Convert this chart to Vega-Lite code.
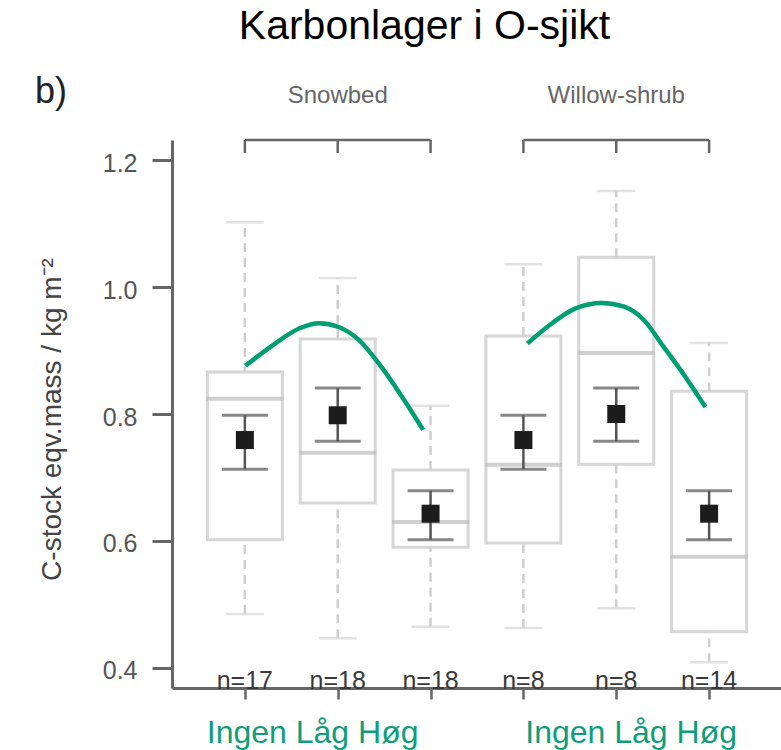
{
  "$schema": "https://vega.github.io/schema/vega-lite/v6.json",
  "width": 609,
  "height": 548,
  "autosize": "none",
  "padding": {"left": 172, "top": 140, "right": 0, "bottom": 62},
  "background": "white",
  "title": {"text": "Karbonlager i O-sjikt", "font": "Liberation Sans", "fontSize": 41, "fontWeight": "normal", "color": "#000000", "anchor": "middle", "frame": "group", "dx": -52, "offset": 26},
  "config": {
    "view": {"stroke": null},
    "font": "Liberation Sans",
    "axisX": {"labels": false, "title": null, "grid": false, "ticks": true, "tickSize": 11, "tickColor": "#666666", "tickWidth": 2.5, "domainColor": "#666666", "domainWidth": 3},
    "axisY": {"grid": false, "labelFont": "Liberation Sans", "labelFontSize": 25, "labelColor": "#555555", "labelPadding": 15, "labelOffset": 3,
      "tickSize": 20, "tickColor": "#666666", "tickWidth": 3, "domainColor": "#666666", "domainWidth": 3,
      "titleFont": "Liberation Sans", "titleFontSize": 28, "titleFontWeight": "normal", "titleColor": "#444444"}
  },
  "datasets": {
    "g": [
      {"site": "Snowbed", "level": "Ingen", "pos": 1, "wlo": 0.485, "q1": 0.602, "med": 0.824, "q3": 0.866, "whi": 1.102, "mean": 0.759, "lo": 0.713, "hi": 0.798, "n": "n=17"},
      {"site": "Snowbed", "level": "Låg", "pos": 2, "wlo": 0.447, "q1": 0.660, "med": 0.739, "q3": 0.918, "whi": 1.014, "mean": 0.798, "lo": 0.757, "hi": 0.841, "n": "n=18"},
      {"site": "Snowbed", "level": "Høg", "pos": 3, "wlo": 0.465, "q1": 0.590, "med": 0.630, "q3": 0.712, "whi": 0.813, "mean": 0.643, "lo": 0.602, "hi": 0.679, "n": "n=18"},
      {"site": "Willow-shrub", "level": "Ingen", "pos": 4, "wlo": 0.463, "q1": 0.597, "med": 0.720, "q3": 0.923, "whi": 1.036, "mean": 0.759, "lo": 0.713, "hi": 0.798, "n": "n=8"},
      {"site": "Willow-shrub", "level": "Låg", "pos": 5, "wlo": 0.494, "q1": 0.721, "med": 0.896, "q3": 1.047, "whi": 1.151, "mean": 0.800, "lo": 0.757, "hi": 0.841, "n": "n=8"},
      {"site": "Willow-shrub", "level": "Høg", "pos": 6, "wlo": 0.409, "q1": 0.457, "med": 0.575, "q3": 0.836, "whi": 0.912, "mean": 0.643, "lo": 0.602, "hi": 0.679, "n": "n=14"}
    ],
    "curve": [
      {"site": "Snowbed", "pos": 1.007, "value": 0.876},
      {"site": "Snowbed", "pos": 1.307, "value": 0.909},
      {"site": "Snowbed", "pos": 1.59, "value": 0.935},
      {"site": "Snowbed", "pos": 1.80, "value": 0.943},
      {"site": "Snowbed", "pos": 2.01, "value": 0.937},
      {"site": "Snowbed", "pos": 2.225, "value": 0.917},
      {"site": "Snowbed", "pos": 2.44, "value": 0.880},
      {"site": "Snowbed", "pos": 2.68, "value": 0.830},
      {"site": "Snowbed", "pos": 2.92, "value": 0.775},
      {"site": "Willow-shrub", "pos": 4.043, "value": 0.911},
      {"site": "Willow-shrub", "pos": 4.308, "value": 0.943},
      {"site": "Willow-shrub", "pos": 4.556, "value": 0.966},
      {"site": "Willow-shrub", "pos": 4.845, "value": 0.975},
      {"site": "Willow-shrub", "pos": 5.085, "value": 0.969},
      {"site": "Willow-shrub", "pos": 5.297, "value": 0.948},
      {"site": "Willow-shrub", "pos": 5.509, "value": 0.906},
      {"site": "Willow-shrub", "pos": 5.756, "value": 0.856},
      {"site": "Willow-shrub", "pos": 5.96, "value": 0.811}
    ],
    "br": [
      {"site": "Snowbed", "start": 1, "mid": 2, "end": 3},
      {"site": "Willow-shrub", "start": 4, "mid": 5, "end": 6}
    ]
  },
  "layer": [
    {
      "data": {"name": "g"},
      "mark": {"type": "bar", "orient": "vertical", "size": 75, "fill": "white", "stroke": "#d6d6d6", "strokeWidth": 3},
      "encoding": {
        "x": {"field": "pos", "type": "quantitative", "scale": {"domain": [0.2691, 6.7203], "nice": false, "zero": false},
          "axis": {"values": [1, 2, 3, 4, 5, 6], "labels": false, "title": null}},
        "y": {"field": "q1", "type": "quantitative", "scale": {"domain": [0.3685, 1.2315], "nice": false, "zero": false},
          "axis": {"values": [0.4, 0.6, 0.8, 1.0, 1.2], "format": ".1f", "title": "C-stock eqv.mass / kg m⁻²",
            "titleX": -112, "titleY": 279, "titleAngle": -90, "titleAlign": "center", "titleBaseline": "alphabetic"}},
        "y2": {"field": "q3"}
      }
    },
    {
      "data": {"name": "g"},
      "mark": {"type": "rule", "stroke": "#cfcfcf", "strokeWidth": 2.5, "strokeDash": [9, 6]},
      "encoding": {
        "x": {"field": "pos", "type": "quantitative"},
        "y": {"field": "q3", "type": "quantitative"},
        "y2": {"field": "whi"}
      }
    },
    {
      "data": {"name": "g"},
      "mark": {"type": "rule", "stroke": "#cfcfcf", "strokeWidth": 2.5, "strokeDash": [9, 6]},
      "encoding": {
        "x": {"field": "pos", "type": "quantitative"},
        "y": {"field": "wlo", "type": "quantitative"},
        "y2": {"field": "q1"}
      }
    },
    {
      "data": {"name": "g"},
      "mark": {"type": "tick", "orient": "horizontal", "size": 38, "thickness": 2.5, "color": "#d6d6d6"},
      "encoding": {
        "x": {"field": "pos", "type": "quantitative"},
        "y": {"field": "whi", "type": "quantitative"}
      }
    },
    {
      "data": {"name": "g"},
      "mark": {"type": "tick", "orient": "horizontal", "size": 38, "thickness": 2.5, "color": "#d6d6d6"},
      "encoding": {
        "x": {"field": "pos", "type": "quantitative"},
        "y": {"field": "wlo", "type": "quantitative"}
      }
    },
    {
      "data": {"name": "g"},
      "mark": {"type": "tick", "orient": "horizontal", "size": 77, "thickness": 4, "color": "#bcbcbc"},
      "encoding": {
        "x": {"field": "pos", "type": "quantitative"},
        "y": {"field": "med", "type": "quantitative"}
      }
    },
    {
      "data": {"name": "g"},
      "mark": {"type": "rule", "stroke": "#555555", "strokeWidth": 2.5},
      "encoding": {
        "x": {"field": "pos", "type": "quantitative"},
        "y": {"field": "lo", "type": "quantitative"},
        "y2": {"field": "hi"}
      }
    },
    {
      "data": {"name": "g"},
      "mark": {"type": "tick", "orient": "horizontal", "size": 46, "thickness": 3, "color": "#555555"},
      "encoding": {
        "x": {"field": "pos", "type": "quantitative"},
        "y": {"field": "hi", "type": "quantitative"}
      }
    },
    {
      "data": {"name": "g"},
      "mark": {"type": "tick", "orient": "horizontal", "size": 46, "thickness": 3, "color": "#555555"},
      "encoding": {
        "x": {"field": "pos", "type": "quantitative"},
        "y": {"field": "lo", "type": "quantitative"}
      }
    },
    {
      "data": {"name": "g"},
      "mark": {"type": "square", "size": 324, "color": "#1c1c1c", "opacity": 1},
      "encoding": {
        "x": {"field": "pos", "type": "quantitative"},
        "y": {"field": "mean", "type": "quantitative"}
      }
    },
    {
      "data": {"name": "curve"},
      "mark": {"type": "line", "color": "#009e73", "strokeWidth": 4.5, "interpolate": "monotone", "strokeCap": "butt"},
      "encoding": {
        "x": {"field": "pos", "type": "quantitative"},
        "y": {"field": "value", "type": "quantitative"},
        "detail": {"field": "site"}
      }
    },
    {
      "data": {"name": "g"},
      "mark": {"type": "text", "font": "Liberation Sans", "fontSize": 25, "color": "#3a3a3a", "align": "center", "baseline": "alphabetic"},
      "encoding": {
        "x": {"field": "pos", "type": "quantitative"},
        "y": {"datum": 0.367, "type": "quantitative"},
        "text": {"field": "n"}
      }
    },
    {
      "data": {"name": "br"},
      "mark": {"type": "rule", "stroke": "#666666", "strokeWidth": 2.5},
      "encoding": {
        "x": {"field": "start", "type": "quantitative"},
        "x2": {"field": "end"},
        "y": {"datum": 1.2315, "type": "quantitative"}
      }
    },
    {
      "data": {"name": "g"},
      "mark": {"type": "rule", "stroke": "#666666", "strokeWidth": 2.5},
      "encoding": {
        "x": {"field": "pos", "type": "quantitative"},
        "y": {"datum": 1.2315, "type": "quantitative"},
        "y2": {"datum": 1.211}
      }
    },
    {
      "data": {"name": "br"},
      "mark": {"type": "text", "font": "Liberation Sans", "fontSize": 24, "color": "#666666", "align": "center", "baseline": "alphabetic"},
      "encoding": {
        "x": {"field": "mid", "type": "quantitative"},
        "y": {"datum": 1.2898, "type": "quantitative"},
        "text": {"field": "site"}
      }
    },
    {
      "data": {"values": [{"label": "Ingen Låg Høg"}]},
      "mark": {"type": "text", "font": "Liberation Sans", "fontSize": 32, "color": "#0f9d7a", "align": "left", "baseline": "alphabetic"},
      "encoding": {
        "x": {"datum": 0.59, "type": "quantitative"},
        "y": {"datum": 0.282, "type": "quantitative"},
        "text": {"field": "label"}
      }
    },
    {
      "data": {"values": [{"label": "Ingen Låg Høg"}]},
      "mark": {"type": "text", "font": "Liberation Sans", "fontSize": 32, "color": "#0f9d7a", "align": "left", "baseline": "alphabetic"},
      "encoding": {
        "x": {"datum": 4.02, "type": "quantitative"},
        "y": {"datum": 0.282, "type": "quantitative"},
        "text": {"field": "label"}
      }
    },
    {
      "data": {"values": [{"label": "b)"}]},
      "mark": {"type": "text", "font": "Liberation Sans", "fontSize": 36, "color": "#222222", "align": "left", "baseline": "alphabetic"},
      "encoding": {
        "x": {"datum": -1.26, "type": "quantitative"},
        "y": {"datum": 1.2898, "type": "quantitative"},
        "text": {"field": "label"}
      }
    }
  ]
}
